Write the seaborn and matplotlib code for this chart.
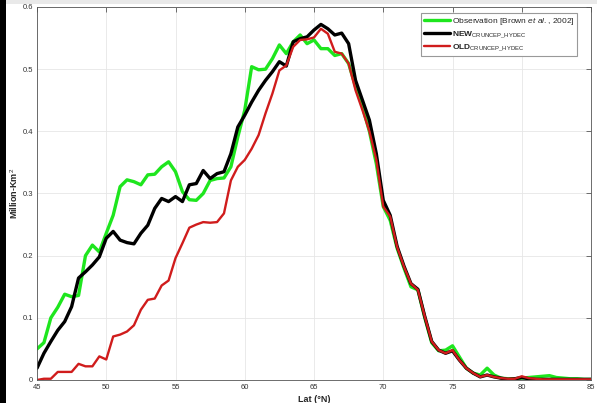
import numpy as np
import pandas as pd
import matplotlib
matplotlib.use("Agg")
import matplotlib.pyplot as plt
from matplotlib.patches import Rectangle
import seaborn as sns

lat = [45.0, 45.5, 46.0, 46.5, 47.0, 47.5, 48.0, 48.5, 49.0, 49.5,
       50.0, 50.5, 51.0, 51.5, 52.0, 52.5, 53.0, 53.5, 54.0, 54.5,
       55.0, 55.5, 56.0, 56.5, 57.0, 57.5, 58.0, 58.5, 59.0, 59.5,
       60.0, 60.5, 61.0, 61.5, 62.0, 62.5, 63.0, 63.5, 64.0, 64.5,
       65.0, 65.5, 66.0, 66.5, 67.0, 67.5, 68.0, 68.5, 69.0, 69.5,
       70.0, 70.5, 71.0, 71.5, 72.0, 72.5, 73.0, 73.5, 74.0, 74.5,
       75.0, 75.5, 76.0, 76.5, 77.0, 77.5, 78.0, 78.5, 79.0, 79.5,
       80.0, 80.5, 81.0, 81.5, 82.0, 82.5, 83.0, 83.5, 84.0, 84.5, 85.0]

observation = [0.050, 0.060, 0.100, 0.117, 0.138, 0.134, 0.136, 0.200, 0.217, 0.206,
               0.236, 0.265, 0.311, 0.322, 0.319, 0.314, 0.330, 0.331, 0.343, 0.351,
               0.335, 0.303, 0.290, 0.289, 0.300, 0.321, 0.324, 0.325, 0.343, 0.391,
               0.434, 0.504, 0.499, 0.500, 0.517, 0.539, 0.525, 0.544, 0.555, 0.541,
               0.547, 0.533, 0.533, 0.522, 0.525, 0.509, 0.472, 0.440, 0.400, 0.348,
               0.279, 0.257, 0.212, 0.180, 0.150, 0.145, 0.100, 0.060, 0.047, 0.048,
               0.055, 0.037, 0.019, 0.011, 0.008, 0.019, 0.008, 0.003, 0.002, 0.002,
               0.003, 0.004, 0.005, 0.006, 0.007, 0.004, 0.003, 0.002, 0.002, 0.001, 0.001]

new_run = [0.019, 0.043, 0.062, 0.080, 0.094, 0.118, 0.164, 0.174, 0.185, 0.198,
           0.228, 0.239, 0.225, 0.221, 0.219, 0.236, 0.249, 0.276, 0.292, 0.287,
           0.295, 0.287, 0.314, 0.316, 0.337, 0.324, 0.332, 0.335, 0.364, 0.407,
           0.426, 0.447, 0.466, 0.482, 0.496, 0.512, 0.505, 0.544, 0.549, 0.552,
           0.563, 0.572, 0.565, 0.555, 0.558, 0.541, 0.482, 0.450, 0.418, 0.364,
           0.289, 0.265, 0.215, 0.183, 0.155, 0.146, 0.102, 0.062, 0.048, 0.043,
           0.047, 0.032, 0.019, 0.011, 0.005, 0.008, 0.005, 0.003, 0.001, 0.002,
           0.004, 0.002, 0.001, 0.001, 0.001, 0.001, 0.001, 0.001, 0.001, 0.001, 0.001]

old_run = [0.000, 0.002, 0.002, 0.013, 0.013, 0.013, 0.026, 0.022, 0.022, 0.038,
           0.033, 0.070, 0.073, 0.078, 0.088, 0.113, 0.129, 0.131, 0.152, 0.160,
           0.196, 0.220, 0.245, 0.250, 0.254, 0.253, 0.254, 0.268, 0.321, 0.343,
           0.354, 0.372, 0.394, 0.429, 0.461, 0.498, 0.506, 0.536, 0.547, 0.548,
           0.551, 0.565, 0.557, 0.528, 0.525, 0.509, 0.466, 0.434, 0.400, 0.354,
           0.279, 0.263, 0.214, 0.182, 0.155, 0.145, 0.102, 0.062, 0.048, 0.043,
           0.048, 0.032, 0.019, 0.011, 0.005, 0.008, 0.005, 0.003, 0.002, 0.002,
           0.006, 0.003, 0.002, 0.001, 0.001, 0.001, 0.001, 0.001, 0.001, 0.001, 0.001]

series_names = ["obs", "new", "old"]
legend_labels = ["Observation [Brown $\\it{et\\ al.}$, 2002]",
                 "$\\mathbf{NEW}_{\\mathrm{CRUNCEP\\_HYDEC}}$",
                 "$\\mathbf{OLD}_{\\mathrm{CRUNCEP\\_HYDEC}}$"]
colors = ["#1ee61e", "#000000", "#d01c1c"]
widths = [2.4, 2.4, 1.7]

x_ticks = [45, 50, 55, 60, 65, 70, 75, 80, 85]
y_ticks = [0, 0.1, 0.2, 0.3, 0.4, 0.5, 0.6]
y_tick_labels = ["0", "0.1", "0.2", "0.3", "0.4", "0.5", "0.6"]

df = pd.concat([
    pd.DataFrame({"lat": lat, "value": observation, "series": "obs"}),
    pd.DataFrame({"lat": lat, "value": new_run, "series": "new"}),
    pd.DataFrame({"lat": lat, "value": old_run, "series": "old"}),
], ignore_index=True)

sns.set_theme(style="white")
plt.rcParams["font.family"] = ["Liberation Sans", "DejaVu Sans"]
plt.rcParams["mathtext.fontset"] = "custom"
plt.rcParams["mathtext.rm"] = "Liberation Sans"
plt.rcParams["mathtext.bf"] = "Liberation Sans:bold"
plt.rcParams["mathtext.it"] = "Liberation Sans:italic"

fig = plt.figure(figsize=(5.97, 4.03), dpi=100)
ax = fig.add_axes([37 / 597, 23 / 403, 554 / 597, 373 / 403])

sns.lineplot(data=df, x="lat", y="value", hue="series", hue_order=series_names,
             palette=dict(zip(series_names, colors)), ax=ax, legend=False,
             estimator=None, sort=False)
for line, lw in zip(ax.get_lines(), widths):
    line.set_linewidth(lw)
    line.set_solid_joinstyle("round")

ax.set_xlim(45, 85)
ax.set_ylim(0, 0.6)
ax.set_xticks(x_ticks)
ax.set_xticklabels([str(t) for t in x_ticks])
ax.set_yticks(y_ticks)
ax.set_yticklabels(y_tick_labels)
ax.grid(True, color="#e6e6e6", linewidth=0.6)
ax.tick_params(axis="both", which="both", direction="in", length=3.5, width=0.6,
               colors="#555555", labelsize=5.5, top=True, right=True, pad=3)
ax.tick_params(axis="both", labelcolor="#333333")
for sp in ax.spines.values():
    sp.set_color("#555555")
    sp.set_linewidth(0.6)
ax.set_xlabel("Lat (°N)", fontsize=6.5, fontweight="bold", labelpad=3)
ax.set_ylabel("Million-Km$^2$", fontsize=6.5, fontweight="bold")
ax.yaxis.set_label_coords(-0.031, 0.5)

handles = ax.get_lines()[:3]
leg = ax.legend(handles, legend_labels, loc="upper right", fontsize=6,
                frameon=True, fancybox=False, framealpha=1, edgecolor="#999999",
                handlelength=3.2, handletextpad=0.2, borderpad=0.35,
                labelspacing=0.35, bbox_to_anchor=(0.983, 0.995))
leg.get_frame().set_linewidth(0.8)

fig.patches.append(Rectangle((0, 0), 6 / 597, 1, transform=fig.transFigure,
                             facecolor="black", edgecolor="none", zorder=10))
fig.patches.append(Rectangle((6 / 597, 1 - 4 / 403), 1, 4 / 403, transform=fig.transFigure,
                             facecolor="#e9e9e9", edgecolor="none", zorder=10))

fig.savefig("out.png", dpi=100)
